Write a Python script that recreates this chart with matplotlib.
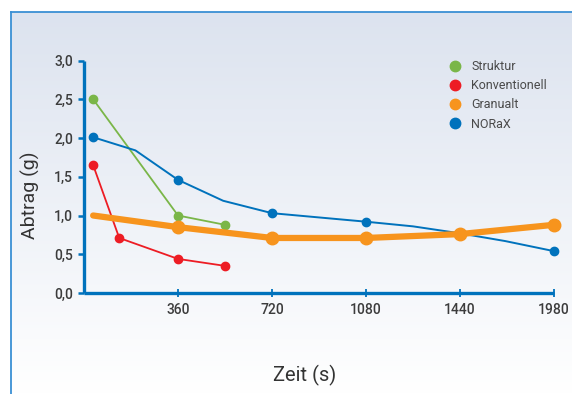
import matplotlib
matplotlib.use('Agg')
import matplotlib.pyplot as plt
from matplotlib.lines import Line2D
import numpy as np

plt.rcParams['font.family'] = ['Roboto', 'DejaVu Sans']

# Zeitachse: 1980 steht dort, wo 1800 stehen wuerde
tick_times = [0, 360, 720, 1080, 1440, 1980]
tick_pos = [0, 360, 720, 1080, 1440, 1800]
tick_labels = ['360', '720', '1080', '1440', '1980']

struktur_t = [35, 360, 540]
struktur_y = [2.50, 1.00, 0.88]

konv_t = [35, 135, 360, 540]
konv_y = [1.65, 0.71, 0.44, 0.35]

granualt_t = [35, 360, 720, 1080, 1440, 1980]
granualt_y = [1.00, 0.85, 0.71, 0.71, 0.76, 0.88]

norax_t = [35, 197, 360, 533, 720, 1080, 1260, 1440, 1700, 1980]
norax_y = [2.01, 1.84, 1.46, 1.19, 1.03, 0.92, 0.86, 0.77, 0.67, 0.54]
norax_marks = [0, 2, 4, 5, 9]

c_green = '#7ab648'
c_red = '#ed1c24'
c_orange = '#f7941d'
c_blue = '#0072bc'


def fwd(t):
    return np.interp(t, tick_times, tick_pos)


def inv(p):
    return np.interp(p, tick_pos, tick_times)


W, H = 572, 394
fig = plt.figure(figsize=(W / 100, H / 100), dpi=100)
fig.patch.set_facecolor('white')

# Hintergrund mit Verlauf
bg = fig.add_axes([0, 0, 1, 1], zorder=0)
bg.set_xlim(0, W)
bg.set_ylim(H, 0)
bg.axis('off')
grad = np.linspace(0, 1, 256).reshape(-1, 1)
top = np.array([0.863, 0.890, 0.937])
bot = np.array([1.0, 1.0, 1.0])
img = top[None, None, :] * (1 - grad[:, :, None]) + bot[None, None, :] * grad[:, :, None]
bg.imshow(img, extent=[11, W, H, 12], aspect='auto')
bg.plot([11, 11], [H, 12], color='#3a90d4', lw=1.3)
bg.plot([11, W], [12, 12], color='#3a90d4', lw=1.3)

ax = fig.add_axes([84 / W, 1 - 293 / H, (554 - 84) / W, (293 - 60.5) / H], zorder=1)
ax.set_facecolor('none')
ax.set_xscale('function', functions=(fwd, inv))

ax.plot(struktur_t, struktur_y, color=c_green, lw=1.3, marker='o', ms=6,
        clip_on=False)
ax.plot(konv_t, konv_y, color=c_red, lw=1.3, marker='o', ms=6, clip_on=False)
ax.plot(norax_t, norax_y, color=c_blue, lw=1.4, marker='o', ms=6,
        markevery=norax_marks, clip_on=False)
ax.plot(granualt_t, granualt_y, color=c_orange, lw=4.5, marker='o', ms=9,
        markevery=[1, 2, 3, 4, 5], solid_capstyle='round', clip_on=False)

ax.set_xlim(0, 1980)
ax.set_ylim(0, 3)

for s in ['top', 'right']:
    ax.spines[s].set_visible(False)
for s in ['left', 'bottom']:
    ax.spines[s].set_color(c_blue)
    ax.spines[s].set_linewidth(2.4)
    ax.spines[s].set_capstyle('butt')

ax.set_xticks(tick_times[1:])
ax.set_xticklabels(tick_labels)
ax.set_yticks(np.arange(0, 3.01, 0.5))
ax.set_yticklabels([f'{v:.1f}'.replace('.', ',') for v in np.arange(0, 3.01, 0.5)])
ax.minorticks_off()
ax.tick_params(axis='x', direction='inout', length=6, width=1.3, color=c_blue,
               labelsize=10, labelcolor='#3c3c3c', pad=4)
ax.tick_params(axis='y', direction='out', length=4, width=1.8, color=c_blue,
               labelsize=10, labelcolor='#3c3c3c', pad=4)
for lab in ax.get_xticklabels() + ax.get_yticklabels():
    lab.set_fontweight('medium')

fig.text(305 / W, 1 - 375 / H, 'Zeit (s)', fontsize=14.5, color='#333333',
         ha='center', va='center')
fig.text(30 / W, 1 - 195 / H, 'Abtrag (g)', fontsize=14, color='#333333',
         ha='center', va='center', rotation=90)

handles = [Line2D([], [], ls='none', marker='o', ms=7.5, color=c)
           for c in [c_green, c_red, c_orange, c_blue]]
labels = ['Struktur', 'Konventionell', 'Granualt', 'NORaX']
fig.legend(handles, labels, loc='upper left',
           bbox_to_anchor=(449 / W, 1 - 60 / H), frameon=False,
           fontsize=9, labelcolor='#4a4a4a', handlelength=1.0,
           handletextpad=0.8, labelspacing=0.5, borderpad=0, borderaxespad=0)

fig.savefig('out.png', dpi=100)
